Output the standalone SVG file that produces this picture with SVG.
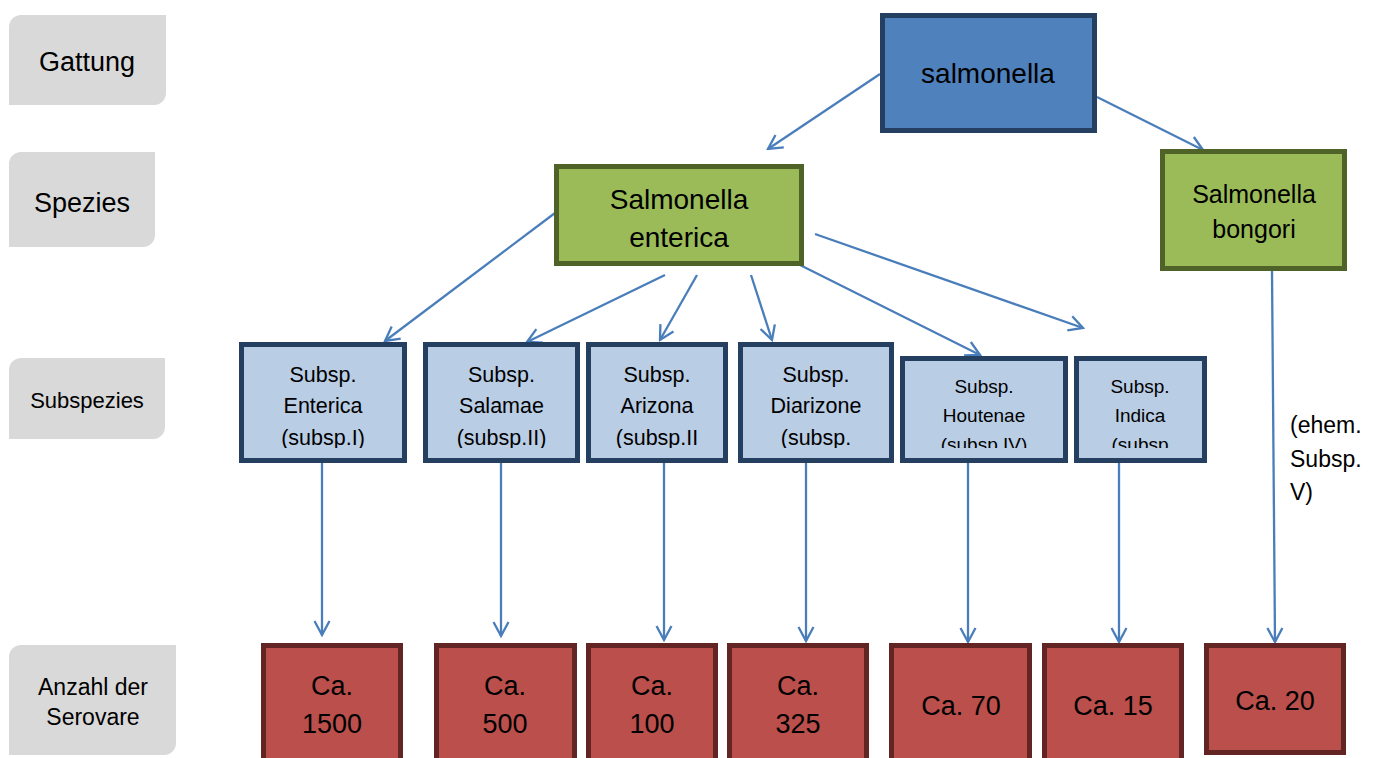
<svg xmlns="http://www.w3.org/2000/svg" width="1378" height="758" viewBox="0 0 1378 758">
<style>
text{font-family:"Liberation Sans",Arial,sans-serif;fill:#000;text-anchor:middle}
.lab{fill:#D9D9D9}
.top{fill:#4F81BD;stroke:#243F60;stroke-width:5}
.sp{fill:#9BBB59;stroke:#4F6228;stroke-width:5}
.ss{fill:#B9CDE5;stroke:#243F60;stroke-width:5}
.ser{fill:#BA4F4C;stroke:#632523;stroke-width:5}
.con line{stroke:#4A7EBB;stroke-width:2.3;fill:none;marker-end:url(#ah)}
.t21{font-size:21.5px}
.t19{font-size:19px}
.t27{font-size:27px}
</style>
<defs>
<marker id="ah" viewBox="-17 -10 19 20" refX="0" refY="0" markerWidth="19" markerHeight="20" markerUnits="userSpaceOnUse" orient="auto">
<path d="M-14,-7.5 L0,0 L-14,7.5" fill="none" stroke="#4A7EBB" stroke-width="2.3"/>
</marker>
<clipPath id="c1"><rect x="239" y="342" width="168" height="106"/></clipPath>
<clipPath id="c2"><rect x="423" y="342" width="157" height="106"/></clipPath>
<clipPath id="c3"><rect x="586" y="342" width="142" height="106"/></clipPath>
<clipPath id="c4"><rect x="738" y="342" width="156" height="106"/></clipPath>
<clipPath id="c5"><rect x="900" y="356" width="168" height="92"/></clipPath>
<clipPath id="c6"><rect x="1074" y="356" width="133" height="92"/></clipPath>
</defs>

<g id="label-gattung">
<path class="lab" d="M9,27 A12,12 0 0 1 21,15 L166,15 L166,93 A12,12 0 0 1 154,105 L9,105 Z"/>
<text x="87" y="71" font-size="27">Gattung</text>
</g>
<g id="label-spezies">
<path class="lab" d="M9,164 A12,12 0 0 1 21,152 L155,152 L155,235 A12,12 0 0 1 143,247 L9,247 Z"/>
<text x="82" y="212" font-size="27">Spezies</text>
</g>
<g id="label-subspezies">
<path class="lab" d="M9,370 A12,12 0 0 1 21,358 L165,358 L165,427 A12,12 0 0 1 153,439 L9,439 Z"/>
<text x="87" y="408" font-size="22">Subspezies</text>
</g>
<g id="label-anzahl">
<path class="lab" d="M9,657 A12,12 0 0 1 21,645 L176,645 L176,743 A12,12 0 0 1 164,755 L9,755 Z"/>
<text x="93" y="695" font-size="23">Anzahl der</text>
<text x="93" y="725" font-size="23">Serovare</text>
</g>

<g id="connectors" class="con">
<line x1="880" y1="74" x2="768" y2="149"/>
<line x1="1097" y1="97" x2="1203" y2="150"/>
<line x1="555" y1="213" x2="385" y2="341"/>
<line x1="665" y1="275" x2="527" y2="342"/>
<line x1="697" y1="275" x2="660" y2="340"/>
<line x1="751" y1="275" x2="772" y2="340"/>
<line x1="800" y1="265" x2="980" y2="355"/>
<line x1="815" y1="234" x2="1083" y2="328"/>
<line x1="322" y1="463" x2="322" y2="635"/>
<line x1="501" y1="463" x2="501" y2="636"/>
<line x1="664" y1="463" x2="664" y2="640"/>
<line x1="806" y1="463" x2="806" y2="641"/>
<line x1="968" y1="463" x2="968" y2="642"/>
<line x1="1119" y1="463" x2="1119" y2="642"/>
<line x1="1272" y1="271" x2="1275" y2="642"/>
</g>

<g id="salmonella">
<rect class="top" x="882.5" y="15.5" width="212" height="115"/>
<text x="988" y="83" font-size="28">salmonella</text>
</g>
<g id="enterica">
<rect class="sp" x="556.5" y="166.5" width="245" height="97"/>
<text x="679" y="209" font-size="28">Salmonella</text>
<text x="679" y="247" font-size="28">enterica</text>
</g>
<g id="bongori">
<rect class="sp" x="1162.5" y="151.5" width="182" height="117"/>
<text x="1254" y="203" font-size="25">Salmonella</text>
<text x="1254" y="238" font-size="25">bongori</text>
</g>

<g id="ss-enterica">
<rect class="ss" x="241.5" y="344.5" width="163" height="116"/>
<g clip-path="url(#c1)" class="t21">
<text x="323" y="382">Subsp.</text><text x="323" y="413">Enterica</text><text x="323" y="445">(subsp.I)</text>
</g>
</g>
<g id="ss-salamae">
<rect class="ss" x="425.5" y="344.5" width="152" height="116"/>
<g clip-path="url(#c2)" class="t21">
<text x="501.5" y="382">Subsp.</text><text x="501.5" y="413">Salamae</text><text x="501.5" y="445">(subsp.II)</text>
</g>
</g>
<g id="ss-arizona">
<rect class="ss" x="588.5" y="344.5" width="137" height="116"/>
<g clip-path="url(#c3)" class="t21">
<text x="657" y="382">Subsp.</text><text x="657" y="413">Arizona</text><text x="657" y="445">(subsp.II</text>
</g>
</g>
<g id="ss-diarizone">
<rect class="ss" x="740.5" y="344.5" width="151" height="116"/>
<g clip-path="url(#c4)" class="t21">
<text x="816" y="382">Subsp.</text><text x="816" y="413">Diarizone</text><text x="816" y="445">(subsp.</text>
</g>
</g>
<g id="ss-houtenae">
<rect class="ss" x="902.5" y="358.5" width="163" height="102"/>
<g clip-path="url(#c5)" class="t19">
<text x="984" y="393">Subsp.</text><text x="984" y="422">Houtenae</text><text x="984" y="451">(subsp.IV)</text>
</g>
</g>
<g id="ss-indica">
<rect class="ss" x="1076.5" y="358.5" width="128" height="102"/>
<g clip-path="url(#c6)" class="t19">
<text x="1140" y="393">Subsp.</text><text x="1140" y="422">Indica</text><text x="1140" y="451">(subsp</text>
</g>
</g>

<g id="note-ehem">
<text x="1290" y="433" font-size="23" style="text-anchor:start">(ehem.</text>
<text x="1290" y="467" font-size="23" style="text-anchor:start">Subsp.</text>
<text x="1290" y="500" font-size="23" style="text-anchor:start">V)</text>
</g>

<g id="ser-1500">
<rect class="ser" x="263.5" y="645.5" width="137" height="120"/>
<text class="t27" x="332" y="695">Ca.</text><text class="t27" x="332" y="733">1500</text>
</g>
<g id="ser-500">
<rect class="ser" x="436.5" y="645.5" width="138" height="120"/>
<text class="t27" x="505" y="695">Ca.</text><text class="t27" x="505" y="733">500</text>
</g>
<g id="ser-100">
<rect class="ser" x="588.5" y="645.5" width="127" height="120"/>
<text class="t27" x="652" y="695">Ca.</text><text class="t27" x="652" y="733">100</text>
</g>
<g id="ser-325">
<rect class="ser" x="729.5" y="645.5" width="137" height="120"/>
<text class="t27" x="798" y="695">Ca.</text><text class="t27" x="798" y="733">325</text>
</g>
<g id="ser-70">
<rect class="ser" x="891.5" y="645.5" width="138" height="120"/>
<text class="t27" x="961" y="715">Ca. 70</text>
</g>
<g id="ser-15">
<rect class="ser" x="1044.5" y="645.5" width="137" height="120"/>
<text class="t27" x="1113" y="715">Ca. 15</text>
</g>
<g id="ser-20">
<rect class="ser" x="1206.5" y="645.5" width="137" height="107"/>
<text class="t27" x="1275" y="710">Ca. 20</text>
</g>
</svg>
